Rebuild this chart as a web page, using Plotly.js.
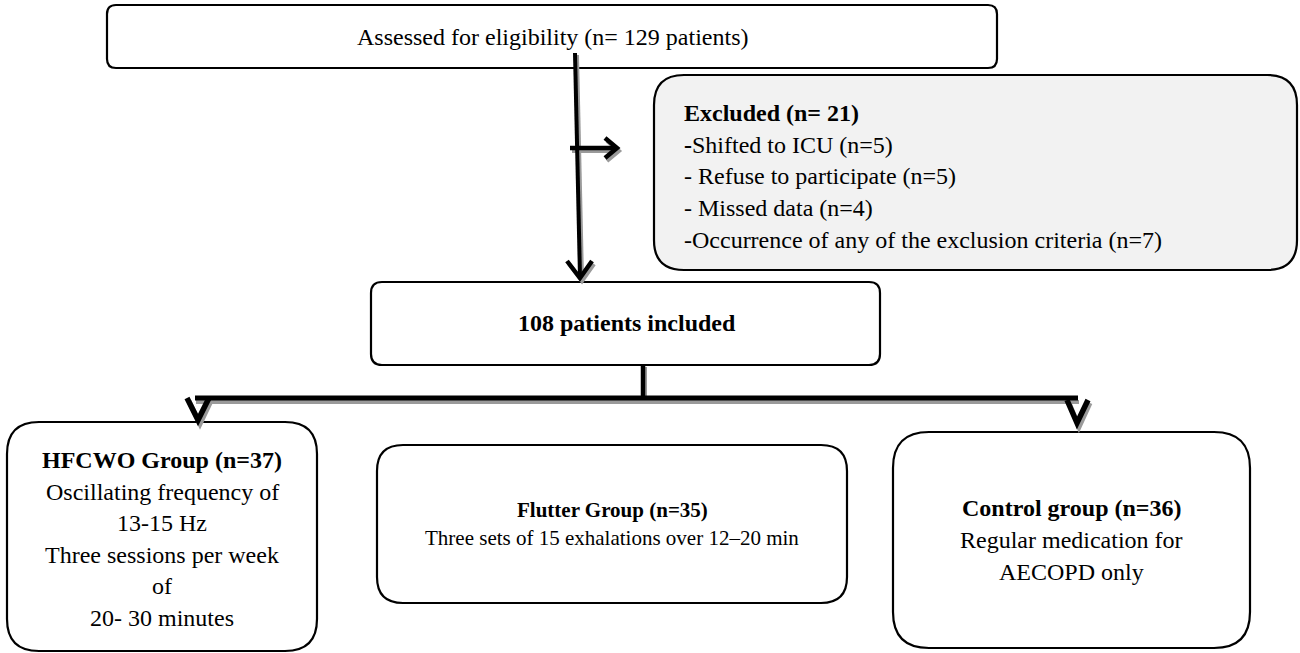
<!DOCTYPE html>
<html>
<head>
<meta charset="utf-8">
<script src="https://cdn.plot.ly/plotly-3.0.1.min.js"></script>
<style>html,body{margin:0;padding:0;background:#fff;}#chart{width:1300px;height:653px;}</style>
</head>
<body>
<div id="chart"></div>
<script>
// ---- content (data) ----
const assessedN = 129;
const excludedN = 21;
const excludedLines = ['-Shifted to ICU (n=5)', '- Refuse to participate (n=5)', '- Missed data (n=4)', '-Occurrence of any of the exclusion criteria (n=7)'];
const includedN = 108;
const groupNames = ['HFCWO Group', 'Flutter Group', 'Control group'];
const groupN = [37, 35, 36];
const groupDesc = [
  ['Oscillating frequency of', '13-15 Hz', 'Three sessions per week', 'of', '20- 30 minutes'],
  ['Three sets of 15 exhalations over 12\u201320 min'],
  ['Regular medication for', 'AECOPD only']
];

// ---- layout geometry (positions, sizes, styles) ----
const FONT = 'Liberation Serif, Times New Roman, serif';
const boxes = {
  top:   {x0:107, y0:5,   x1:997,  y1:68,  r:9,  fill:'#ffffff'},
  excl:  {x0:654, y0:75,  x1:1297, y1:270, r:30, fill:'#f2f2f2'},
  incl:  {x0:371, y0:282, x1:880,  y1:365, r:11, fill:'#ffffff'},
  g0:    {x0:7,   y0:422, x1:317,  y1:651, r:32, fill:'#ffffff'},
  g1:    {x0:377, y0:445, x1:847,  y1:603, r:26, fill:'#ffffff'},
  g2:    {x0:893, y0:432, x1:1250, y1:648, r:36, fill:'#ffffff'}
};
function rr(b){
  const {x0,y0,x1,y1,r} = b;
  return `M ${x0+r},${y0} L ${x1-r},${y0} Q ${x1},${y0} ${x1},${y0+r} L ${x1},${y1-r} Q ${x1},${y1} ${x1-r},${y1} L ${x0+r},${y1} Q ${x0},${y1} ${x0},${y1-r} L ${x0},${y0+r} Q ${x0},${y0} ${x0+r},${y0} Z`;
}
const shapes = [];
const shadow = '#9a9a9a';
function line(x0,y0,x1,y1,w,c){ shapes.push({type:'line',xref:'x',yref:'y',x0,y0,x1,y1,line:{color:c,width:w},layer:'above'}); }
function pth(p,w,c){ shapes.push({type:'path',xref:'x',yref:'y',path:p,line:{color:c,width:w},layer:'above'}); }

Object.values(boxes).forEach(b=>{
  shapes.push({type:'path',xref:'x',yref:'y',path:rr(b),fillcolor:b.fill,line:{color:'#000',width:2.2},layer:'below'});
});

// shadows
line(577,55,582,278,4,shadow);
line(572,151,615,151,4,shadow);
pth('M 607,141 L 619,151 L 607,161',4,shadow);
line(196,402,1079,402,4,shadow);
line(645,367,645,402,4,shadow);
pth('M 569,264 L 582,281 L 594,264',4,shadow);
pth('M 189,401 L 200,424 L 211,401',5,shadow);
pth('M 1069,403 L 1079,427 L 1090,403',5,shadow);

// main connectors
line(575,53,580,277,4,'#000');
pth('M 567,261 L 580,278 L 592,261',4.5,'#000');
line(570,148,614,148,4.5,'#000');
pth('M 605,138 L 617,148 L 605,158',4.5,'#000');
line(643,365,643,398,4.5,'#000');
line(195,398,1078,398,5,'#000');
pth('M 187,398 L 198,420 L 209,398',5.5,'#000');
pth('M 1067,400 L 1077,423 L 1088,400',5.5,'#000');

// ---- text ----
const ann = [];
function txt(x,y,t,size,align){
  ann.push({x,y,xref:'x',yref:'y',text:t,showarrow:false,xanchor:align||'center',yanchor:'middle',
    font:{family:FONT,size:size,color:'#000'}});
}
txt((boxes.top.x0+boxes.top.x1)/2, 37, `Assessed for eligibility (n= ${assessedN} patients)`, 24);

const exclAll = [`<b>Excluded (n= ${excludedN})</b>`].concat(excludedLines.map((s,i)=> i===0 ? '<b>-</b>'+s.slice(1) : s));
exclAll.forEach((s,i)=> txt(682, 113 + i*31.7, s, 24, 'left'));

txt((boxes.incl.x0+boxes.incl.x1)/2 + 1, 323, `<b>${includedN} patients included</b>`, 24);

const groupTopY = [460, 510, 508];
const groupSpacing = [31.6, 28, 32];
const groupSize = [24, 21, 24];
groupNames.forEach((g,i)=>{
  const b = boxes['g'+i];
  const cx = (b.x0+b.x1)/2;
  const lines = [`<b>${g} (n=${groupN[i]})</b>`].concat(groupDesc[i]);
  lines.forEach((s,j)=> txt(cx, groupTopY[i] + j*groupSpacing[i], s, groupSize[i]));
});

const layout = {
  width:1300, height:653,
  margin:{l:0,r:0,t:0,b:0},
  paper_bgcolor:'#fff', plot_bgcolor:'#fff',
  xaxis:{range:[0,1300],visible:false,fixedrange:true},
  yaxis:{range:[653,0],visible:false,fixedrange:true},
  shapes, annotations:ann, showlegend:false
};
Plotly.newPlot('chart', [], layout, {staticPlot:true});
</script>
</body>
</html>
